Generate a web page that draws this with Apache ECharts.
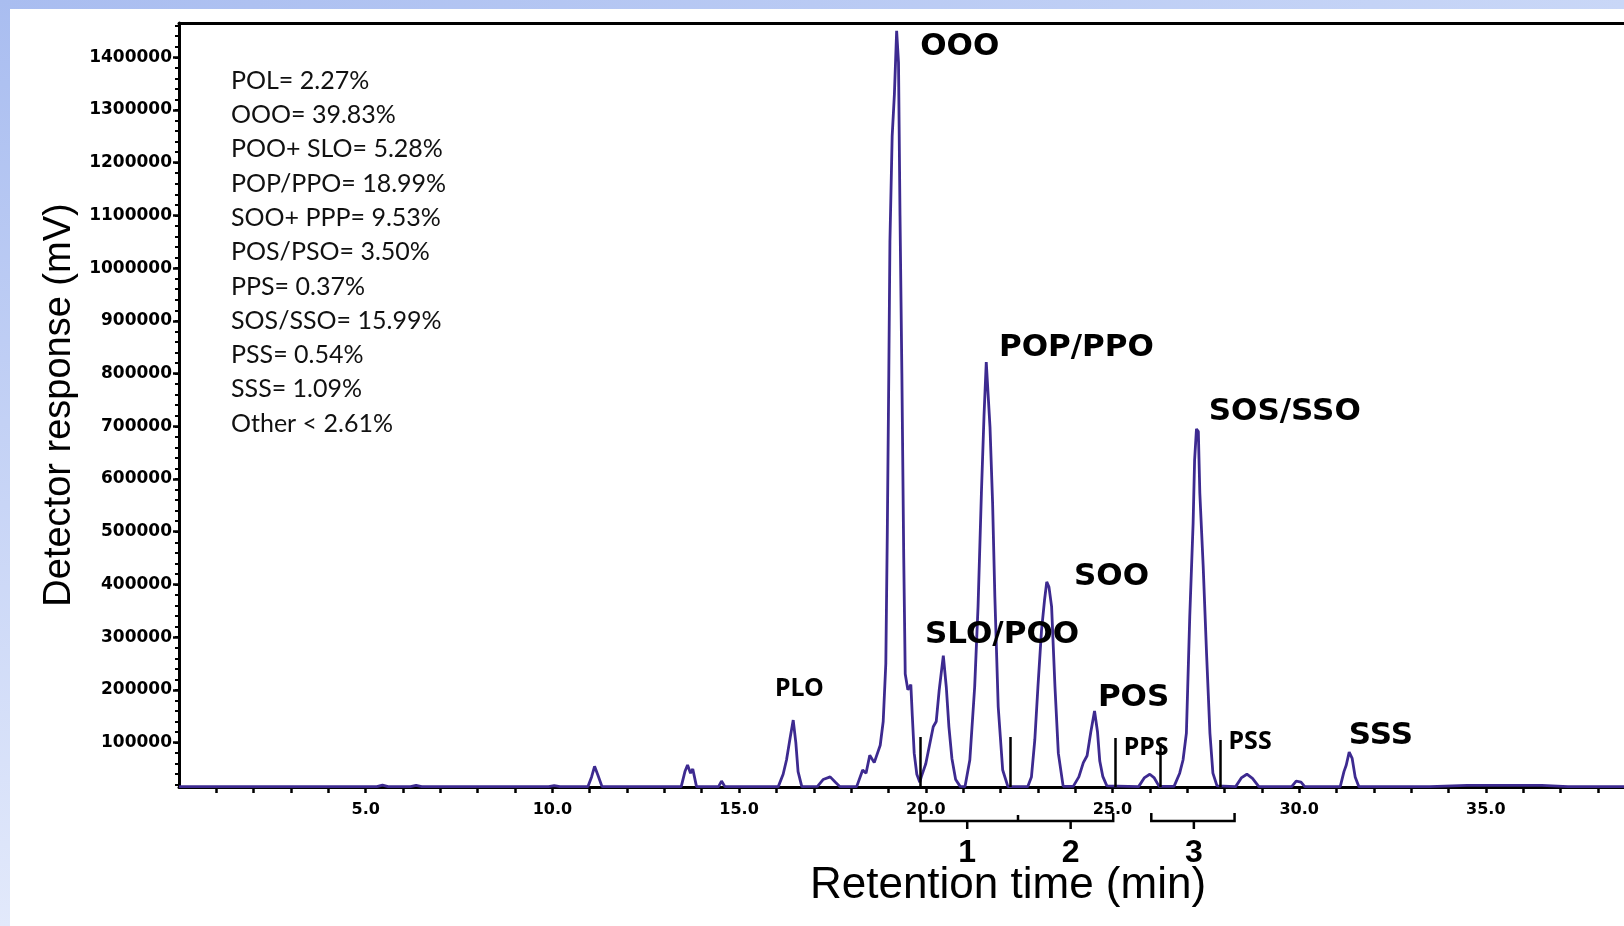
<!DOCTYPE html>
<html>
<head>
<meta charset="utf-8">
<script src="https://cdn.jsdelivr.net/npm/echarts@6/dist/echarts.min.js"></script>
<style>
  html, body { margin: 0; padding: 0; background: #fff; }
  #chart { width: 1624px; height: 926px; }
</style>
</head>
<body>
<div id="chart"></div>
<script>
// retention time (min), detector response (mV)
const baselineStart = [[0, 16500], [5.3, 16500], [5.45, 19500], [5.6, 16500], [6.2, 16500], [6.35, 19000], [6.5, 16500], [9.9, 16500], [10.05, 18500], [10.2, 16500]];
const peak11 = [[10.95, 16500], [11.05, 35000], [11.13, 55000], [11.22, 38000], [11.33, 16500]];
const peak13 = [[13.45, 16500], [13.55, 45000], [13.62, 57500], [13.7, 42000], [13.76, 50000], [13.86, 16500], [14.45, 16500], [14.53, 27000], [14.62, 16500]];
const peakPLO = [[16.05, 16500], [16.18, 40000], [16.27, 67000], [16.37, 110000], [16.45, 142800], [16.52, 100000], [16.58, 45000], [16.68, 16500]];
const bump17 = [[17.1, 17000], [17.25, 30000], [17.44, 35000], [17.58, 25000], [17.7, 16500]];
const peakOOO = [[18.15, 16500], [18.31, 48000], [18.4, 42000], [18.5, 76000], [18.62, 62000], [18.78, 95000], [18.86, 140000], [18.93, 250000], [18.97, 500000], [19.01, 800000], [19.04, 1050000], [19.1, 1250000], [19.16, 1330000], [19.22, 1450000], [19.27, 1390000], [19.31, 1100000], [19.36, 800000], [19.41, 450000], [19.45, 230000], [19.52, 200000], [19.6, 210000], [19.64, 150000], [19.69, 80000], [19.76, 40000], [19.84, 25000]];
const peakSLO = [[19.88, 35000], [20.0, 60000], [20.1, 95000], [20.2, 130000], [20.28, 140000], [20.36, 200000], [20.47, 265000], [20.55, 205000], [20.62, 130000], [20.7, 70000], [20.8, 30000], [20.92, 17000], [21.05, 16500]];
const peakPOP = [[21.09, 17000], [21.18, 67000], [21.31, 206000], [21.4, 358000], [21.49, 573000], [21.56, 720000], [21.62, 822000], [21.67, 760000], [21.72, 699000], [21.79, 554000], [21.85, 377000], [21.94, 168000], [22.06, 48000], [22.2, 16500]];
const peakSOO = [[22.73, 16500], [22.83, 35000], [22.92, 105000], [23.01, 213000], [23.1, 313000], [23.18, 370000], [23.24, 405000], [23.3, 395000], [23.37, 358000], [23.46, 206000], [23.55, 80000], [23.68, 17000]];
const peakPOS = [[23.95, 17000], [24.1, 35000], [24.22, 62000], [24.32, 75000], [24.42, 120000], [24.52, 160000], [24.6, 120000], [24.66, 65000], [24.74, 36000], [24.85, 18000]];
const peakPPS = [[25.7, 16500], [25.85, 33000], [26.0, 40000], [26.12, 33000], [26.25, 17000]];
const peakSOS = [[26.65, 17000], [26.8, 42000], [26.89, 67000], [26.98, 118000], [27.07, 339000], [27.16, 516000], [27.2, 636000], [27.25, 695000], [27.3, 690000], [27.34, 573000], [27.43, 434000], [27.52, 269000], [27.61, 118000], [27.69, 42000], [27.8, 18000]];
const peakPSS = [[28.3, 16500], [28.45, 33000], [28.6, 40000], [28.75, 32000], [28.92, 16500]];
const tail = [[29.8, 16500], [29.92, 27000], [30.05, 25000], [30.15, 16500], [31.1, 16500], [31.2, 45000], [31.26, 57000], [31.34, 82000], [31.42, 70000], [31.5, 35000], [31.6, 16500], [33.5, 16500], [34.5, 19000], [36.5, 19000], [37.2, 16500], [38.7, 16500]];

// integration dividers: [time, top value]
const dividers = [[19.86, 110600], [22.25, 110600], [25.08, 108700], [26.27, 99000], [27.9, 105000]];

// peak names: [time, response, text]
const bigLabels = [[19.85, 1420000, 'OOO'], [21.96, 848000, 'POP/PPO'], [27.58, 727000, 'SOS/SSO'], [23.97, 414000, 'SOO'], [19.98, 304000, 'SLO/POO'], [24.61, 184600, 'POS'], [31.33, 112500, 'SSS']];
const smallLabels = [[15.96, 201600, 'PLO'], [25.3, 89800, 'PPS'], [28.11, 101100, 'PSS']];

// fraction brackets under the time axis (time, depth below axis)
const bracketPaths = [
  [[19.86, 8], [19.86, 16], [25.02, 16], [25.02, 8]],
  [[22.47, 16], [22.47, 10]],
  [[21.11, 16], [21.11, 24]],
  [[23.88, 16], [23.88, 24]],
  [[26.04, 8], [26.04, 16], [28.27, 16], [28.27, 8]],
  [[27.18, 16], [27.18, 24]]
];
const bracketNames = [[21.11, 48, '1'], [23.88, 48, '2'], [27.18, 48, '3']];

const notes = ['POL= 2.27%', 'OOO= 39.83%', 'POO+ SLO= 5.28%', 'POP/PPO= 18.99%', 'SOO+ PPP= 9.53%', 'POS/PSO= 3.50%', 'PPS= 0.37%', 'SOS/SSO= 15.99%', 'PSS= 0.54%', 'SSS= 1.09%', 'Other < 2.61%'];

const yLabels = [100000, 200000, 300000, 400000, 500000, 600000, 700000, 800000, 900000, 1000000, 1100000, 1200000, 1300000, 1400000];
const xLabels = [5, 10, 15, 20, 25, 30, 35];

const xMin = 0, xMax = 38.7;
const yMin = 15800, yMax = 1465000;

const trace = [].concat(baselineStart, peak11, peak13, peakPLO, bump17, peakOOO, peakSLO, peakPOP, peakSOO, peakPOS, peakPPS, peakSOS, peakPSS, tail);

const xTicks = [];
for (let t = 1; t <= 38; t++) xTicks.push(t);
const yMinor = [];
for (let v = 20000; v < yMax; v += 20000) yMinor.push(v);

const chart = echarts.init(document.getElementById('chart'));

const option = {
  animation: false,
  backgroundColor: '#fff',
  grid: [
    { left: 179, right: 0, top: 23, bottom: 139 },
    { left: 179, right: 0, top: 805, height: 65 }
  ],
  xAxis: [
    {
      type: 'value', gridIndex: 0, min: xMin, max: xMax, position: 'bottom',
      axisLine: { onZero: false, lineStyle: { color: '#000', width: 3 } },
      axisTick: { customValues: xTicks, length: 6, lineStyle: { color: '#000', width: 2.5 } },
      axisLabel: {
        customValues: xLabels, margin: 15, color: '#000',
        fontFamily: 'DejaVu Sans', fontWeight: 'bold', fontSize: 16,
        formatter: v => v.toFixed(1)
      },
      splitLine: { show: false }
    },
    {
      type: 'value', gridIndex: 0, min: xMin, max: xMax, position: 'top',
      axisLine: { onZero: false, lineStyle: { color: '#000', width: 3 } },
      axisTick: { show: false }, axisLabel: { show: false }, splitLine: { show: false }
    },
    {
      type: 'value', gridIndex: 1, min: xMin, max: xMax, show: false
    }
  ],
  yAxis: [
    {
      type: 'value', gridIndex: 0, min: yMin, max: yMax, position: 'left',
      name: 'Detector response (mV)', nameLocation: 'middle', nameGap: 100,
      nameTextStyle: { fontFamily: 'Liberation Sans', fontSize: 38, color: '#000' },
      axisLine: { onZero: false, lineStyle: { color: '#000', width: 3 } },
      axisTick: { customValues: yLabels, length: 6, lineStyle: { color: '#000', width: 2.5 } },
      axisLabel: {
        customValues: yLabels, margin: 7, color: '#000',
        fontFamily: 'DejaVu Sans', fontWeight: 'bold', fontSize: 17,
        formatter: v => String(v)
      },
      splitLine: { show: false }
    },
    {
      type: 'value', gridIndex: 0, min: yMin, max: yMax, position: 'left',
      axisLine: { show: false },
      axisTick: { customValues: yMinor, length: 4, lineStyle: { color: '#000', width: 2 } },
      axisLabel: { show: false }, splitLine: { show: false }
    },
    {
      type: 'value', gridIndex: 1, min: 0, max: 65, inverse: true, show: false
    }
  ],
  graphic: [
    {
      type: 'rect', z: -10, shape: { x: 0, y: 0, width: 1624, height: 9 },
      style: { fill: new echarts.graphic.LinearGradient(0, 0, 1, 0, [{ offset: 0, color: '#a9bdf0' }, { offset: 1, color: '#c9d7f7' }]) }
    },
    {
      type: 'rect', z: -10, shape: { x: 0, y: 0, width: 10, height: 926 },
      style: { fill: new echarts.graphic.LinearGradient(0, 0, 0, 1, [{ offset: 0, color: '#a9bdf0' }, { offset: 1, color: '#e2e9fb' }]) }
    },
    {
      type: 'text', x: 1008, y: 886,
      style: {
        text: 'Retention time (min)', fill: '#000', textAlign: 'center', textVerticalAlign: 'middle',
        font: '44px "Liberation Sans"'
      }
    }
  ].concat(notes.map((line, i) => ({
    type: 'text', x: 231, y: 80.8 + i * 34.28,
    style: { text: line, fill: '#111', textVerticalAlign: 'middle', font: '25px Lato' }
  }))),
  series: [
    {
      type: 'line', xAxisIndex: 0, yAxisIndex: 0, data: trace,
      symbol: 'none', z: 3,
      lineStyle: { color: '#3d2a90', width: 2.8 }
    },
    {
      type: 'lines', coordinateSystem: 'cartesian2d', xAxisIndex: 0, yAxisIndex: 0, z: 4,
      data: dividers.map(d => ({ coords: [[d[0], yMin], [d[0], d[1]]] })),
      lineStyle: { color: '#000', width: 2.5, opacity: 1 }
    },
    {
      type: 'lines', coordinateSystem: 'cartesian2d', xAxisIndex: 2, yAxisIndex: 2, polyline: true,
      data: bracketPaths.map(p => ({ coords: p })),
      lineStyle: { color: '#000', width: 2.5, opacity: 1 }
    },
    {
      type: 'scatter', xAxisIndex: 2, yAxisIndex: 2, symbolSize: 0, data: bracketNames,
      itemStyle: { opacity: 1 },
      label: {
        show: true, position: 'inside', formatter: p => p.data[2], color: '#000',
        fontFamily: 'Liberation Sans', fontWeight: 'bold', fontSize: 32
      }
    },
    {
      type: 'scatter', xAxisIndex: 0, yAxisIndex: 0, symbolSize: 0, data: bigLabels, z: 5,
      itemStyle: { opacity: 1 },
      label: {
        show: true, position: 'right', distance: 0, formatter: p => p.data[2], color: '#000',
        fontFamily: 'DejaVu Sans', fontWeight: 'bold', fontSize: 31
      }
    },
    {
      type: 'scatter', xAxisIndex: 0, yAxisIndex: 0, symbolSize: 0, data: smallLabels, z: 5,
      itemStyle: { opacity: 1 },
      label: {
        show: true, position: 'right', distance: 0, formatter: p => p.data[2], color: '#000',
        fontFamily: 'Noto Sans', fontWeight: 'bold', fontSize: 25
      }
    }
  ]
};

chart.setOption(option);
</script>
</body>
</html>
